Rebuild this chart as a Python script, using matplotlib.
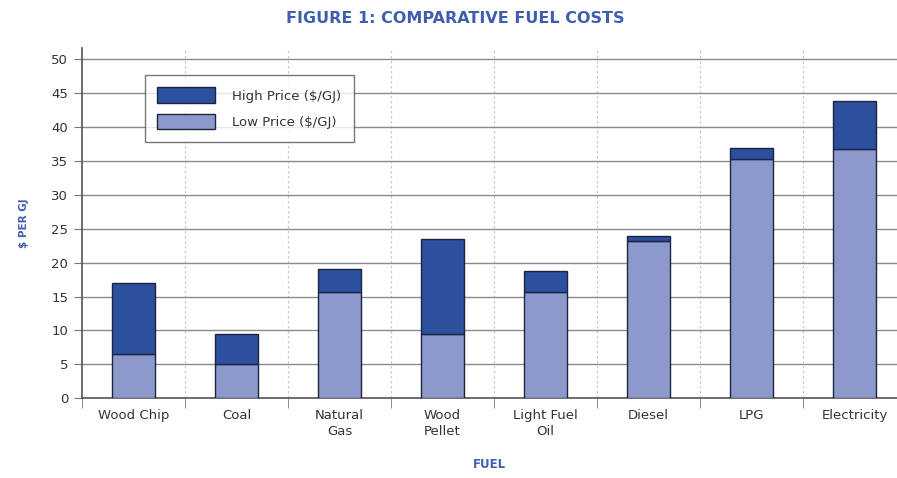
import numpy as np
import matplotlib.pyplot as plt

# Comparative fuel costs ($/GJ)
fuels = ['Wood Chip', 'Coal', 'Natural\nGas', 'Wood\nPellet', 'Light Fuel\nOil',
         'Diesel', 'LPG', 'Electricity']
low_price = [6.5, 5.0, 15.6, 9.4, 15.6, 23.2, 35.3, 36.8]
high_price = [17.0, 9.5, 19.0, 23.5, 18.8, 24.0, 36.9, 43.8]

dark_blue = '#2c4f9e'
light_blue = '#8d98cb'
title_blue = '#3f5fae'
edge = '#1c2540'

fig = plt.figure(figsize=(8.97, 4.78), dpi=100)
ax = fig.add_axes([0.0914, 0.167, 0.9086, 0.733])

x = np.arange(len(fuels))
diff = np.array(high_price) - np.array(low_price)
ax.bar(x, low_price, width=0.42, color=light_blue, edgecolor=edge, linewidth=1.0,
       label='Low Price ($/GJ)', zorder=3)
ax.bar(x, diff, bottom=low_price, width=0.42, color=dark_blue, edgecolor=edge,
       linewidth=1.0, label='High Price ($/GJ)', zorder=3)

ax.set_xlim(-0.5, 7.41)
ax.set_ylim(0, 51.7)
ax.set_yticks(np.arange(0, 51, 5))
ax.set_xticks(x)
ax.set_xticklabels(fuels, fontsize=9.5, color='#333333', linespacing=1.3)
ax.tick_params(axis='x', length=0, pad=8)
ax.set_xticks(np.arange(-0.5, 7.5, 1), minor=True)
ax.tick_params(axis='x', which='minor', length=7, color='#777777', direction='out')
ax.tick_params(axis='y', labelsize=9.5, labelcolor='#333333', length=6,
               color='#777777', pad=4)

ax.grid(axis='y', color='#8a8a8a', linewidth=1.0, zorder=0)
for b in np.arange(0.5, 7.5, 1):
    ax.axvline(b, color='#c8c8c8', linewidth=0.9, linestyle=(0, (2, 2)), zorder=0)

for s in ['top', 'right']:
    ax.spines[s].set_visible(False)
ax.spines['left'].set_color('#555555')
ax.spines['bottom'].set_color('#555555')
ax.spines['left'].set_linewidth(1.2)
ax.spines['bottom'].set_linewidth(1.2)

handles, labels = ax.get_legend_handles_labels()
leg = ax.legend(handles[::-1], labels[::-1], loc='upper left',
                bbox_to_anchor=(0.077, 0.923), fontsize=9.5, frameon=True,
                fancybox=False, edgecolor='#555555', handlelength=4.4,
                handleheight=1.45, borderpad=0.95, labelspacing=0.8,
                handletextpad=1.3, borderaxespad=0)
leg.get_frame().set_linewidth(1.0)
for t in leg.get_texts():
    t.set_color('#333333')

fig.text(0.507, 0.962, 'FIGURE 1: COMPARATIVE FUEL COSTS', ha='center', va='center',
         fontsize=11.5, fontweight='bold', color=title_blue)
ax.set_ylabel('$ PER GJ', fontsize=7.5, fontweight='bold', color=title_blue, labelpad=16)
ax.set_xlabel('FUEL', fontsize=8.5, fontweight='bold', color=title_blue, labelpad=14)

fig.savefig('out.png', dpi=100)
